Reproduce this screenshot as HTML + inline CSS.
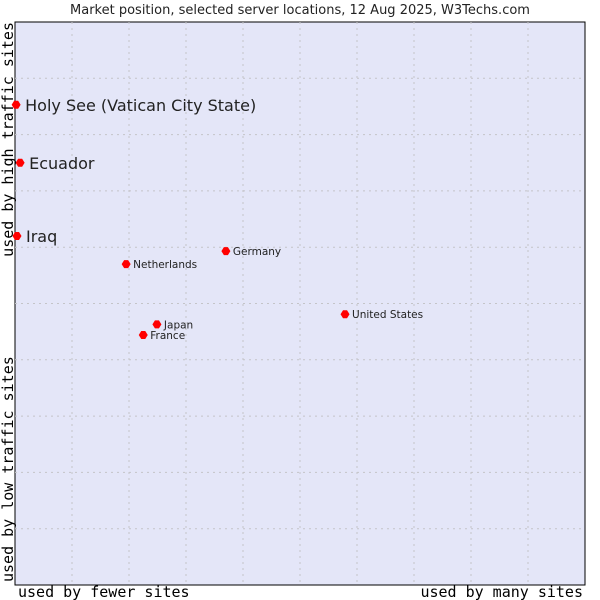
<!DOCTYPE html>
<html><head><meta charset="utf-8"><style>
body{margin:0;background:#fff;}
svg{display:block;}
</style></head><body>
<svg id="chart" width="600" height="600" xmlns="http://www.w3.org/2000/svg">
<text x="300" y="14" text-anchor="middle" font-family="DejaVu Sans, sans-serif" font-size="13" fill="#222">Market position, selected server locations, 12 Aug 2025, W3Techs.com</text>
<rect x="15" y="22" width="570" height="563" fill="#e4e6f8" stroke="#000" stroke-width="1"/>
<g id="grid"></g>
<g id="pts"></g>
<text x="18" y="597" font-family="DejaVu Sans Mono, monospace" font-size="15" fill="#000">used by fewer sites</text>
<text x="583" y="597" text-anchor="end" font-family="DejaVu Sans Mono, monospace" font-size="15" fill="#000">used by many sites</text>
<text transform="translate(13,22) rotate(-90)" text-anchor="end" font-family="DejaVu Sans Mono, monospace" font-size="15" fill="#000">used by high traffic sites</text>
<text transform="translate(13,582) rotate(-90)" font-family="DejaVu Sans Mono, monospace" font-size="15" fill="#000">used by low traffic sites</text>
</svg>
<script>
const names = ["Holy See (Vatican City State)","Ecuador","Iraq","Netherlands","Germany","United States","Japan","France"];
const xVals = [0.2,0.9,0.35,19.5,37.0,57.9,24.9,22.5];
const yVals = [85.3,75.0,62.0,57.0,59.3,48.1,46.3,44.4];
const big = [true,true,true,false,false,false,false,false];
const NS="http://www.w3.org/2000/svg";
const L=15,R=585,T=22,B=585;
const xs=v=>L+v/100*(R-L);
const ys=v=>B-v/100*(B-T);
const grid=document.getElementById('grid');
for(let i=1;i<10;i++){
  const v=document.createElementNS(NS,'line');
  
  
  v.setAttribute('x1',xs(i*10));v.setAttribute('x2',xs(i*10));v.setAttribute('y1',T);v.setAttribute('y2',B);
  v.setAttribute('stroke','#c4c4c8');v.setAttribute('stroke-dasharray','2,4');
  grid.appendChild(v);
  const h=document.createElementNS(NS,'line');
  
  
  h.setAttribute('y1',ys(i*10));h.setAttribute('y2',ys(i*10));h.setAttribute('x1',L);h.setAttribute('x2',R);
  h.setAttribute('stroke','#c4c4c8');h.setAttribute('stroke-dasharray','2,4');
  grid.appendChild(h);
}
const pts=document.getElementById('pts');
names.forEach((n,i)=>{
  const x=xs(xVals[i]),y=ys(yVals[i]);
  const p=document.createElementNS(NS,'path');
  
  
  p.setAttribute('d',`M${x-4.5},${y} L${x-2},${y-4} L${x+2},${y-4} L${x+4.5},${y} L${x+2},${y+4} L${x-2},${y+4} Z`);
  p.setAttribute('fill','#f00');
  pts.appendChild(p);
  const t=document.createElementNS(NS,'text');
  
  
  t.setAttribute('x',x+(big[i]?9:7));
  t.setAttribute('y',y+(big[i]?6:4));
  t.setAttribute('font-family','DejaVu Sans, sans-serif');
  t.setAttribute('font-size',big[i]?'16':'10.5');
  t.setAttribute('fill','#222');
  t.textContent=n;
  pts.appendChild(t);
});
</script>
</body></html>
